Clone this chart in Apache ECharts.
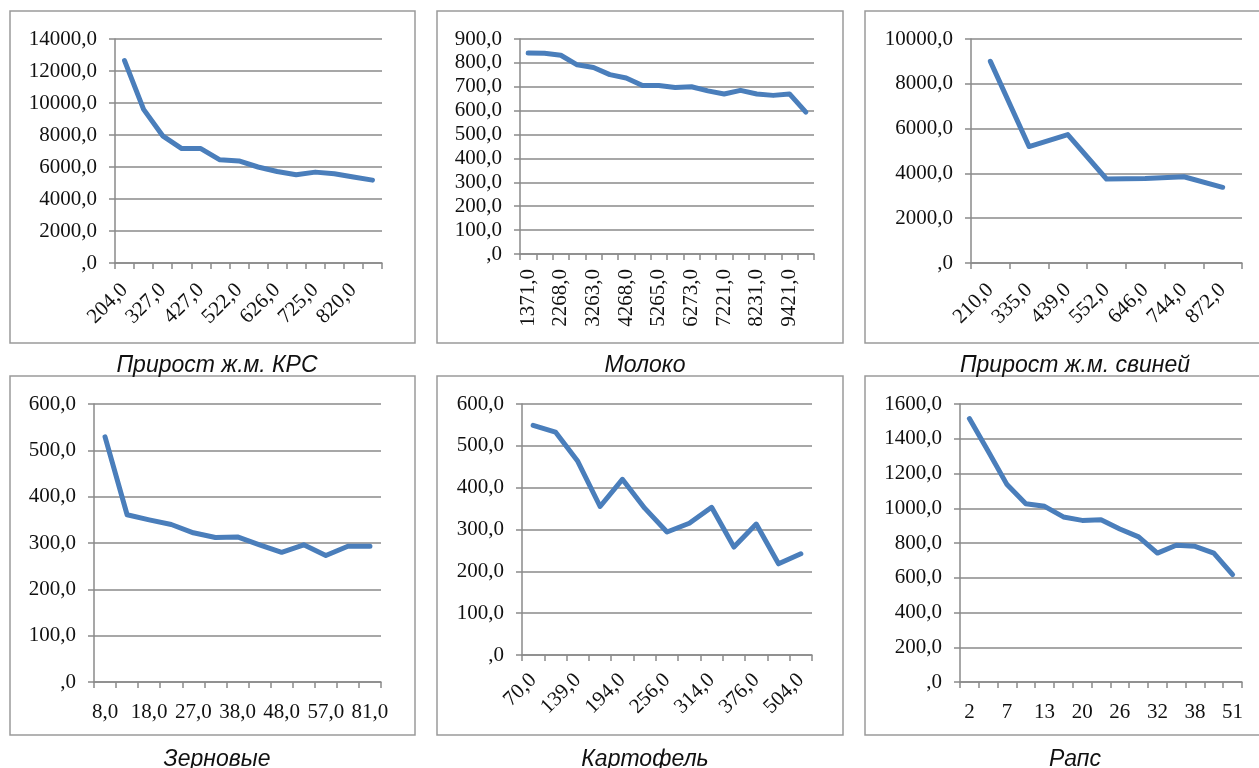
<!DOCTYPE html>
<html>
<head>
<meta charset="utf-8">
<script src="https://cdn.jsdelivr.net/npm/echarts@6/dist/echarts.min.js"></script>
<style>
html,body{margin:0;padding:0;background:#fff;}
#c{width:1259px;height:768px;}
</style>
</head>
<body>
<div id="c"></div>
<script>
// ---- Data ----
const titles = ['Прирост ж.м. КРС','Молоко','Прирост ж.м. свиней','Зерновые','Картофель','Рапс'];

const krsCats = ['204,0','265,0','327,0','377,0','427,0','474,0','522,0','574,0','626,0','676,0','725,0','772,0','820,0','870,0'];
const krsVals = [12650,9600,7950,7150,7150,6450,6380,6000,5720,5520,5680,5580,5380,5180];

const milkCats = ['1371,0','1820,0','2268,0','2765,0','3263,0','3765,0','4268,0','4766,0','5265,0','5769,0','6273,0','6747,0','7221,0','7726,0','8231,0','8826,0','9421,0','9900,0'];
const milkVals = [841,840,832,792,781,751,737,705,705,697,700,683,670,685,670,664,670,594];

const pigCats = ['210,0','335,0','439,0','552,0','646,0','744,0','872,0'];
const pigVals = [9000,5200,5730,3750,3770,3850,3380];

const grainCats = ['8,0','13,0','18,0','22,0','27,0','32,0','38,0','43,0','48,0','52,0','57,0','67,0','81,0'];
const grainVals = [529,361,350,340,322,312,313,296,280,296,273,293,293];

const potCats = ['70,0','105,0','139,0','165,0','194,0','225,0','256,0','285,0','314,0','345,0','376,0','440,0','504,0'];
const potVals = [549,533,463,355,420,351,294,315,353,258,313,218,242];

const rapsCats = ['2','4','7','10','13','16','20','23','26','29','32','35','38','44','51'];
const rapsVals = [1516,1328,1136,1026,1011,950,930,934,881,835,742,787,781,742,618];

const yMax = [14000,900,10000,600,600,1600];
const yStep = [2000,100,2000,100,100,200];

// ---- Layout ----
const grids = [
  {left:115, top:39,  width:267, height:224},
  {left:520, top:39,  width:294, height:215},
  {left:971, top:39,  width:271, height:224},
  {left:94,  top:404, width:287, height:278},
  {left:522, top:404, width:290, height:251},
  {left:960, top:404, width:282, height:278}
];
const boxes = [
  [10,11,405,332],[437,11,406,332],[865,11,400,332],
  [10,376,405,359],[437,376,406,359],[865,376,400,359]
];
const captionPos = [[212,349],[640,349],[1070,349],[212,743],[640,743],[1070,743]];

const allCats = [krsCats,milkCats,pigCats,grainCats,potCats,rapsCats];
const allVals = [krsVals,milkVals,pigVals,grainVals,potVals,rapsVals];
const rotate = [45,90,45,0,45,0];
const labInterval = [1,1,0,1,1,1];
const xMargin = [24,15,24,20,22,20];

const GRAY = '#8a8a8a';
const serif = '"Liberation Serif","Times New Roman",serif';

function fmt(v){
  let s = v.toFixed(1).replace('.', ',');
  if (s.startsWith('0,')) s = s.slice(1);
  return s;
}

const xAxis = [], yAxis = [], series = [], title = [];
for (let i=0;i<6;i++){
  xAxis.push({
    type:'category', gridIndex:i, data:allCats[i], boundaryGap:true,
    axisLine:{show:true, lineStyle:{color:GRAY, width:1.5}},
    axisTick:{show:true, interval:0, length:6, lineStyle:{color:GRAY, width:1.5}},
    axisLabel:{interval:labInterval[i], rotate:rotate[i], color:'#111', fontFamily:serif, fontSize:21,
      margin: xMargin[i], hideOverlap:false},
    splitLine:{show:false}
  });
  yAxis.push({
    type:'value', gridIndex:i, min:0, max:yMax[i], interval:yStep[i],
    axisLine:{show:true, lineStyle:{color:GRAY, width:1.5}},
    axisTick:{show:true, length:6, lineStyle:{color:GRAY, width:1.5}},
    axisLabel:{formatter:fmt, color:'#111', fontFamily:serif, fontSize:21, margin:18},
    splitLine:{show:true, lineStyle:{color:GRAY, width:1.5}}
  });
  series.push({
    type:'line', xAxisIndex:i, yAxisIndex:i, data:allVals[i],
    symbol:'none', smooth:false,
    lineStyle:{color:'#4a7ebb', width:5, cap:'round', join:'round'},
    itemStyle:{color:'#4a7ebb'},
    animation:false
  });
  title.push({
    text:titles[i], left:captionPos[i][0], top:captionPos[i][1], textAlign:'center',
    textStyle:{fontFamily:'"Liberation Sans",Arial,sans-serif', fontStyle:'italic', fontWeight:'normal', fontSize:23, color:'#111'}
  });
}

const graphic = boxes.map(b => ({
  type:'rect', shape:{x:b[0], y:b[1], width:b[2], height:b[3]},
  style:{fill:'none', stroke:'#9a9a9a', lineWidth:1.5}, z:-1, silent:true
}));

const chart = echarts.init(document.getElementById('c'), null, {renderer:'canvas'});
chart.setOption({
  animation:false,
  backgroundColor:'#fff',
  title: title,
  grid: grids,
  xAxis: xAxis,
  yAxis: yAxis,
  series: series,
  graphic: graphic
});
</script>
</body>
</html>
